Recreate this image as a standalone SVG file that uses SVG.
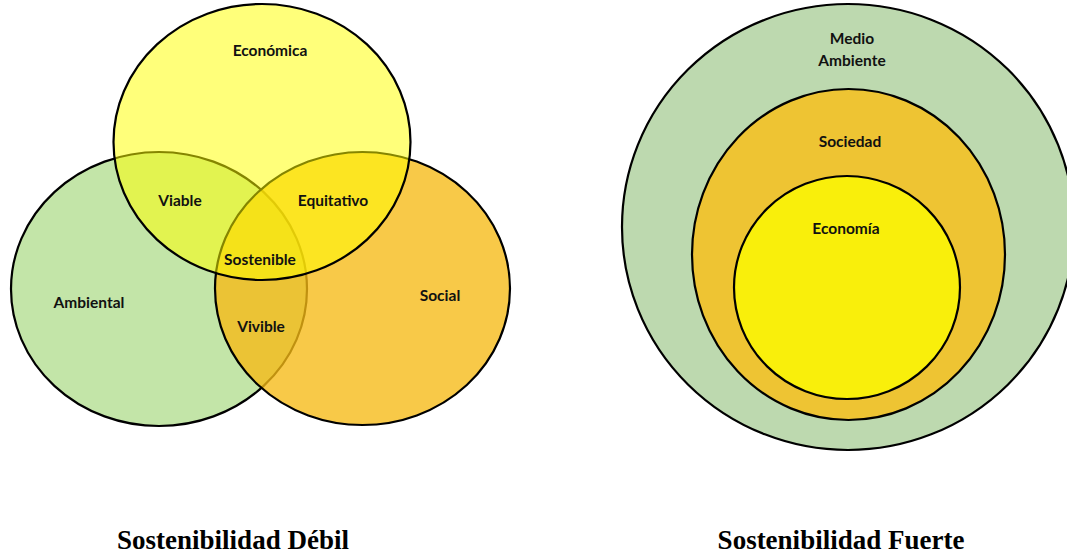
<svg xmlns="http://www.w3.org/2000/svg" width="1067" height="554" viewBox="0 0 1067 554">
  <style>
    .ring { stroke: #000; stroke-width: 2.2; }
    .lbl { font-family: Lato, "Open Sans", "Liberation Sans", sans-serif; font-weight: 700; font-size: 15.5px; fill: #111; text-anchor: middle; }
    .title { font-family: "Liberation Serif", "Times New Roman", serif; font-weight: 700; font-size: 27px; fill: #000; text-anchor: middle; }
  </style>
  <rect width="1067" height="554" fill="#fff"/>

  <!-- Weak sustainability: three overlapping sets -->
  <g id="ambiental">
    <ellipse class="ring" cx="159" cy="289" rx="148" ry="137" fill="#C3E5A8"/>
  </g>
  <g id="social">
    <ellipse class="ring" cx="362.5" cy="288.5" rx="147.5" ry="136.5" fill="#F6BA15" fill-opacity="0.78"/>
  </g>
  <g id="economica">
    <ellipse class="ring" cx="262" cy="142" rx="148.5" ry="138" fill="#FFFF00" fill-opacity="0.52"/>
  </g>
  <g id="venn-labels">
    <text class="lbl" x="270" y="56">Económica</text>
    <text class="lbl" x="180" y="206">Viable</text>
    <text class="lbl" x="333" y="206">Equitativo</text>
    <text class="lbl" x="260" y="265">Sostenible</text>
    <text class="lbl" x="89" y="308">Ambiental</text>
    <text class="lbl" x="440" y="301">Social</text>
    <text class="lbl" x="261" y="332">Vivible</text>
  </g>

  <!-- Strong sustainability: nested sets -->
  <g id="medio-ambiente">
    <ellipse class="ring" cx="848" cy="227" rx="226" ry="223" fill="#BDD9AF"/>
    <text class="lbl" x="852" y="44">Medio</text>
    <text class="lbl" x="852" y="66">Ambiente</text>
  </g>
  <g id="sociedad">
    <ellipse class="ring" cx="848.5" cy="254.5" rx="156.5" ry="165.5" fill="#EEC433"/>
    <text class="lbl" x="850" y="147">Sociedad</text>
  </g>
  <g id="economia">
    <ellipse class="ring" cx="847" cy="287.5" rx="113" ry="111.5" fill="#F9EF0B"/>
    <text class="lbl" x="846" y="234">Economía</text>
  </g>

  <g id="titles">
    <text class="title" x="233" y="549">Sostenibilidad Débil</text>
    <text class="title" x="841" y="549">Sostenibilidad Fuerte</text>
  </g>
</svg>
